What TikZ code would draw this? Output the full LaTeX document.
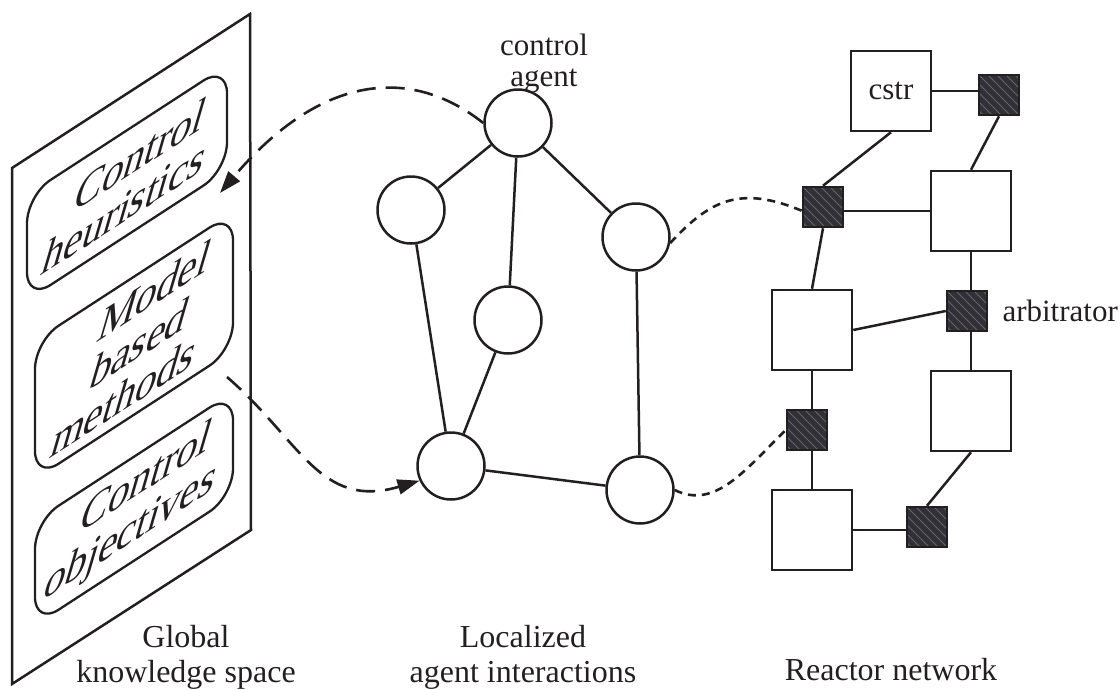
\documentclass[tikz,border=0pt]{standalone}
\usepackage{fontspec}
\setmainfont{Liberation Serif}
\usetikzlibrary{arrows.meta}

\definecolor{ink}{RGB}{35,31,32}
\definecolor{hatchfill}{RGB}{48,48,54}
\definecolor{hatchline}{RGB}{100,100,110}

\begin{document}
\begin{tikzpicture}[x=1pt,y=-1pt,line width=2.5pt,color=ink,
  agent/.style={circle,draw=ink,line width=2.5pt,minimum size=67pt,inner sep=0pt},
  unit/.style={rectangle,draw=ink,line width=2.5pt,minimum size=80pt,inner sep=0pt,
    font=\fontsize{31}{31}\selectfont},
  arbiter/.style={rectangle,draw=ink,line width=2.5pt,fill=hatchfill,minimum size=40pt,inner sep=0pt,
    path picture={\foreach \d in {-54,-45,...,54}{%
      \draw[hatchline,line width=0.9pt]
        ([xshift={\d pt-30pt},yshift=30pt]path picture bounding box.center) -- ++(60pt,-60pt);}}},
  link/.style={draw=ink,line width=2.5pt},
  longdash/.style={draw=ink,line width=2.6pt,dash pattern=on 19pt off 10pt},
  shortdash/.style={draw=ink,line width=2.6pt,dash pattern=on 8pt off 6pt},
  tip/.style={-{Triangle[length=22pt,width=15pt]}},
  caption/.style={font=\fontsize{32}{35}\selectfont,align=center,text=ink,inner sep=0pt},
  tag/.style={font=\fontsize{31}{31}\selectfont,text=ink,inner sep=0pt},
  know/.style={font=\fontsize{42}{43}\selectfont,align=center,text=ink,inner sep=0pt},
  knowbox/.style={draw=ink,line width=2.3pt,rounded corners=28pt},
]
\useasboundingbox (0,0) rectangle (1120,689);

% knowledge panel, seen in perspective
\draw[link,line join=miter] (12,168) -- (250,14) -- (251,530) -- (12,684) -- cycle;

% knowledge items on the slanted panel
\begin{scope}[shift={(12,0)},yslant=0.65]
  \draw[knowbox] (15,205) -- (215,205) -- (215,310) -- (15,310) -- cycle;
  \draw[knowbox] (23,356) -- (221,356) -- (221,494) -- (23,494) -- cycle;
  \draw[knowbox] (23,536) -- (221,536) -- (221,640) -- (23,640) -- cycle;
  \begin{scope}[shift={(121,259)},xslant=0.36]
    \node[know,transform shape] (kb1) at (0,0) {Control\\heuristics};
  \end{scope}
  \begin{scope}[shift={(128,426)},xslant=0.36]
    \node[know,transform shape] (kb2) at (0,0) {Model\\based\\methods};
  \end{scope}
  \begin{scope}[shift={(126,589)},xslant=0.36]
    \node[know,transform shape] (kb3) at (0,0) {Control\\objectives};
  \end{scope}
\end{scope}
\coordinate (kin) at (220,193);
\coordinate (kout) at (227,377);

% agents
\node[agent] (ca) at (518,123) {};
\node[agent] (a1) at (411,210) {};
\node[agent] (a2) at (636,237) {};
\node[agent] (a3) at (508,320) {};
\node[agent] (a4) at (451,466) {};
\node[agent] (a5) at (640,490) {};
\node[tag,align=center] (cal) at (544,64) {control\\agent};

\draw[link] (ca) -- (a1);
\draw[link] (ca) -- (a3);
\draw[link] (ca) -- (a2);
\draw[link] (a1) -- (a4);
\draw[link] (a3) -- (a4);
\draw[link] (a4) -- (a5);
\draw[link] (a2) -- (a5);

% reactor network
\node[unit] (cstr) at (891,91) {cstr};
\node[arbiter] (h1) at (999,95) {};
\node[arbiter] (h2) at (823,207) {};
\node[unit] (u2) at (971,211) {};
\node[arbiter] (h3) at (967,311) {};
\node[unit] (u3) at (812,330) {};
\node[unit] (u4) at (971,411) {};
\node[arbiter] (h4) at (807,430) {};
\node[unit] (u5) at (812,530) {};
\node[arbiter] (h5) at (927,527) {};
\node[tag,anchor=base west] (arbl) at ([xshift=13pt,yshift=-10pt]h3.east) {arbitrator};

\draw[link] (cstr.east) -- (cstr.east -| h1.west);
\draw[link] (cstr.south) -- (h2.north);
\draw[link] (h1.south) -- (u2.north);
\draw[link] (u2.west -| h2.east) -- (u2.west);
\draw[link] (u2.south) -- (u2.south |- h3.north);
\draw[link] (h2.south) -- (u3.north);
\draw[link] (u3.east) -- (h3.west);
\draw[link] (u4.north |- h3.south) -- (u4.north);
\draw[link] (u3.south) -- (u3.south |- h4.north);
\draw[link] (u3.south |- h4.south) -- (u5.north);
\draw[link] (u5.east) -- (u5.east -| h5.west);
\draw[link] (h5.north) -- (u4.south);

% information flow
\draw[longdash,tip] (ca.west) .. controls (410,65) and (320,75) .. (kin);
\draw[longdash,tip] (kout) .. controls (300,440) and (320,510) .. (a4.205);
\draw[shortdash] (a2.-10) .. controls (710,200) and (740,185) .. (h2.190);
\draw[shortdash] (a5.east) .. controls (715,510) and (745,470) .. (h4.west);

% captions
\node[caption] (c1) at (186,657) {Global\\knowledge space};
\node[caption] (c2) at (523,657) {Localized\\agent interactions};
\node[caption,anchor=base] (c3) at (891,680) {Reactor network};
\end{tikzpicture}
\end{document}
